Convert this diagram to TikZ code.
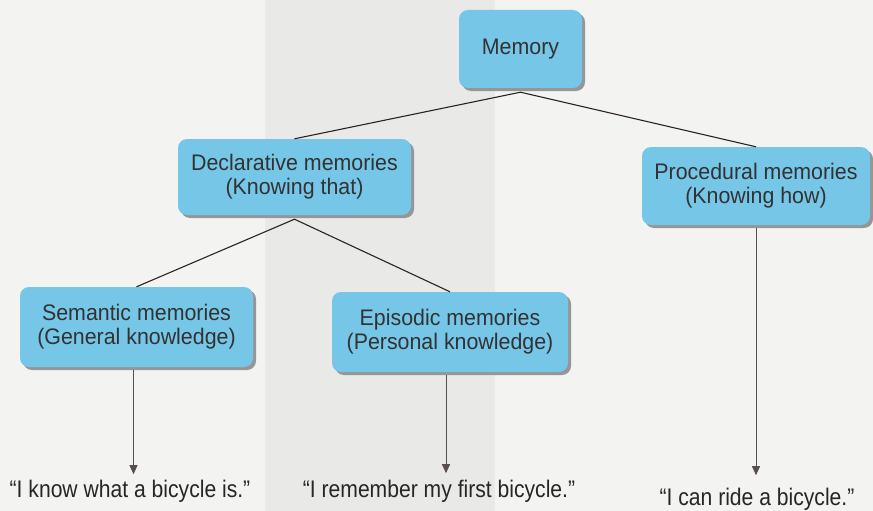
\documentclass[tikz,border=0pt]{standalone}
\usepackage{fontspec}
\setmainfont{Liberation Sans}
\newfontfamily\boxfont[FakeStretch=0.95]{Liberation Sans}
\newfontfamily\quotefont[FakeStretch=0.88]{Liberation Sans}
\usetikzlibrary{arrows.meta,shadows}
\definecolor{boxblue}{RGB}{118,198,232}
\definecolor{shade}{RGB}{150,150,150}
\definecolor{paper}{RGB}{243,243,241}
\definecolor{panel}{RGB}{233,233,231}
\definecolor{inkline}{RGB}{45,35,30}
\definecolor{boxtext}{RGB}{50,50,50}
\tikzset{
  membox/.style={draw=none, fill=boxblue, rounded corners=9pt,
    minimum width=#1, align=center, text=boxtext,
    font=\boxfont\fontsize{22.5}{24}\selectfont,
    drop shadow={shadow xshift=3pt, shadow yshift=-3pt, fill=shade, opacity=1}},
  link/.style={draw=inkline, line width=1.1pt},
  pointer/.style={draw=inkline!80, line width=0.9pt,
    -{Triangle[width=8pt,length=9pt]}},
  example/.style={text=black!85, font=\quotefont\fontsize{24}{26}\selectfont,
    inner sep=0pt}
}
\begin{document}
\begin{tikzpicture}[x=1pt,y=-1pt]
  % page background
  \fill[paper] (0,0) rectangle (873,511);
  \fill[panel] (265,0) rectangle (495,511);
  \useasboundingbox (0,0) rectangle (873,511);

  % boxes
  \node[membox=123pt, minimum height=78pt] (mem) at (520.5,49) {Memory};
  \node[membox=233pt, minimum height=76pt] (decl) at (294.5,177)
    {Declarative memories\\(Knowing that)};
  \node[membox=228pt, minimum height=78pt] (proc) at (756,186)
    {Procedural memories\\(Knowing how)};
  \node[membox=233pt, minimum height=80pt] (sem) at (136.5,327)
    {Semantic memories\\(General knowledge)};
  \node[membox=236pt, minimum height=80pt] (epi) at (450,332)
    {Episodic memories\\(Personal knowledge)};

  % examples
  \node[example, anchor=base] (semq) at (130,497)
    {\char"201C I know what a bicycle is.\char"201D};
  \node[example, anchor=base] (epiq) at (439,497)
    {\char"201C I remember my first bicycle.\char"201D};
  \node[example, anchor=base] (procq) at (757,505)
    {\char"201C I can ride a bicycle.\char"201D};

  % tree links
  \coordinate (memfoot) at ([yshift=-4pt]mem.south);
  \coordinate (declfoot) at ([yshift=-4pt]decl.south);
  \draw[link] (decl.north) -- (memfoot) -- (proc.north);
  \draw[link] (sem.north) -- (declfoot) -- (epi.north);

  % arrows to examples
  \draw[pointer] ([xshift=-3pt,yshift=-3pt]sem.south) -- ++(0,104);
  \draw[pointer] ([xshift=-4pt,yshift=-3pt]epi.south) -- ++(0,98);
  \draw[pointer] ([yshift=-3pt]proc.south) -- ++(0,247);
\end{tikzpicture}
\end{document}
